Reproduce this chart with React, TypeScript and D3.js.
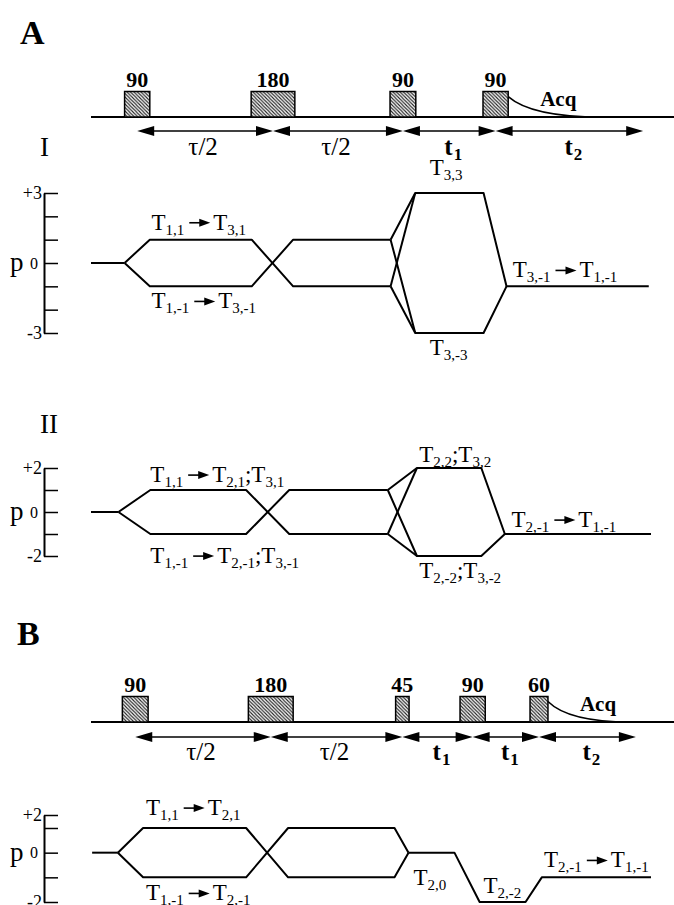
import React, { useEffect, useRef } from 'react';
import * as d3 from 'd3';

const W = 674;
const H = 905;

// shared time axis (arbitrary units, 0..100 across the sequence)
const TIME_DOMAIN = [0, 100];

// ---- A: pulse sequence ----
const pulseLabelsA = ['90', '180', '90', '90'];
const pulseStartA = [6.0, 28.6, 53.4, 70.0];
const pulseEndA = [10.5, 36.4, 58.0, 74.5];
const delayLabelsA = ['τ/2', 'τ/2', 't{1}', 't{2}'];
const acqEndA = 91.2;
const arrowEndA = 98.6;

// ---- B: pulse sequence ----
const pulseLabelsB = ['90', '180', '45', '90', '60'];
const pulseStartB = [5.6, 28.1, 54.4, 65.9, 78.4];
const pulseEndB = [10.2, 36.1, 56.8, 70.4, 81.6];
const delayLabelsB = ['τ/2', 'τ/2', 't{1}', 't{1}', 't{2}'];
const acqEndB = 96.3;
const arrowEndB = 97.3;

// ---- coherence pathways: [time, order] ----
const pathI: [number, number][][] = [
  [[0, 0], [6.0, 0]],
  [[6.0, 0], [10.5, 1], [28.7, 1], [36.1, -1], [53.5, -1]],
  [[6.0, 0], [10.5, -1], [28.7, -1], [36.1, 1], [53.5, 1]],
  [[53.5, 1], [57.9, 3], [70.1, 3], [74.2, -1], [99.6, -1]],
  [[53.5, 1], [57.9, -3], [70.1, -3], [74.2, -1]],
  [[53.5, -1], [57.9, 3]],
  [[53.5, -1], [57.9, -3]],
];
const pathII: [number, number][][] = [
  [[0, 0], [4.9, 0]],
  [[4.9, 0], [10.6, 1], [27.7, 1], [35.4, -1], [53.0, -1]],
  [[4.9, 0], [10.6, -1], [27.7, -1], [35.4, 1], [53.0, 1]],
  [[53.0, 1], [58.2, 2], [69.7, 2], [73.9, -1], [100, -1]],
  [[53.0, 1], [58.2, -2], [69.7, -2], [73.9, -1]],
  [[53.0, -1], [58.2, 2]],
  [[53.0, -1], [58.2, -2]],
];
const pathB: [number, number][][] = [
  [[0.2, 0], [4.8, 0]],
  [[4.8, 0], [9.3, 1], [27.7, 1], [35.2, -1], [54.2, -1], [56.7, 0]],
  [[4.8, 0], [9.3, -1], [27.7, -1], [35.2, 1], [54.2, 1], [56.7, 0]],
  [[56.7, 0], [64.9, 0], [69.4, -2], [77.6, -2], [80.5, -1], [100, -1]],
];

// ---- labels on the pathways ----
const labelsI = [
  { text: 'T{1,1}>T{3,1}', t: 10.8, p: 1, dy: -10 },
  { text: 'T{1,-1}>T{3,-1}', t: 10.8, p: -1, dy: 22 },
  { text: 'T{3,3}', t: 60.5, p: 3, dy: -18 },
  { text: 'T{3,-3}', t: 60.5, p: -3, dy: 22 },
  { text: 'T{3,-1}>T{1,-1}', t: 75.3, p: -1, dy: -9 },
];
const labelsII = [
  { text: 'T{1,1}>T{2,1};T{3,1}', t: 10.6, p: 1, dy: -8 },
  { text: 'T{1,-1}>T{2,-1};T{3,-1}', t: 10.6, p: -1, dy: 29 },
  { text: 'T{2,2};T{3,2}', t: 58.6, p: 2, dy: -6 },
  { text: 'T{2,-2};T{3,-2}', t: 58.6, p: -2, dy: 22 },
  { text: 'T{2,-1}>T{1,-1}', t: 75.1, p: -1, dy: -7 },
];
const labelsB = [
  { text: 'T{1,1}>T{2,1}', t: 9.8, p: 1, dy: -13 },
  { text: 'T{1,-1}>T{2,-1}', t: 9.8, p: -1, dy: 23 },
  { text: 'T{2,0}', t: 57.6, p: 0, dy: 32 },
  { text: 'T{2,-2}', t: 70.1, p: -2, dy: -9 },
  { text: 'T{2,-1}>T{1,-1}', t: 80.9, p: -1, dy: -10 },
];

const SERIF = '"Liberation Serif", "DejaVu Serif", serif';

const x = d3.scaleLinear().domain(TIME_DOMAIN).range([91, 651]);

let ctx: CanvasRenderingContext2D | null = null;
function textWidth(s: string, size: number, bold: boolean) {
  if (!ctx) ctx = document.createElement('canvas').getContext('2d');
  if (!ctx) return s.length * size * 0.5;
  ctx.font = `${bold ? 'bold ' : ''}${size}px ${SERIF}`;
  return ctx.measureText(s).width;
}

// tiny markup: {..} subscript, > arrow (drawn as a line with a filled head)
function RichText({ text, x, y, size = 23, bold = false, sub = 15, anchor = 'start' }: any) {
  const parts: string[] = text.match(/\{[^}]*\}|>|[^{>]+/g) || [];
  const items: any[] = [];
  let cx = 0;
  parts.forEach((s, i) => {
    if (s === '>') {
      items.push({ kind: 'arrow', x: cx + 5 });
      cx += 29;
    } else if (s.startsWith('{')) {
      const str = s.slice(1, -1);
      const gap = bold ? 1 : 0;
      items.push({ kind: 'sub', x: cx + gap, s: str });
      cx += gap + textWidth(str, sub, bold);
    } else {
      items.push({ kind: 'txt', x: cx, s });
      cx += textWidth(s, size, bold);
    }
  });
  const x0 = anchor === 'middle' ? x - cx / 2 : x;
  const fw = bold ? 'bold' : 'normal';
  return (
    <g transform={`translate(${x0},${y})`} fontFamily={SERIF} fontWeight={fw}>
      {items.map((it, i) => {
        if (it.kind === 'arrow') {
          const ay = -size * 0.3;
          return (
            <g key={i}>
              <line x1={it.x} x2={it.x + 12} y1={ay} y2={ay} stroke="#000" strokeWidth={1.6} />
              <path d={`M${it.x + 21},${ay}L${it.x + 10},${ay - 4}L${it.x + 10},${ay + 4}Z`} fill="#000" />
            </g>
          );
        }
        if (it.kind === 'sub') {
          return <text key={i} x={it.x} y={5} fontSize={sub}>{it.s}</text>;
        }
        return <text key={i} x={it.x} y={0} fontSize={size}>{it.s}</text>;
      })}
    </g>
  );
}

function PulseRow({ labels, starts, ends, delays, acqEnd, arrowEnd, base, arrowY, labelY }: any) {
  const top = base - 25.5;
  const mids = starts.map((s: number, i: number) => (x(s) + x(ends[i])) / 2);
  const bounds = [...mids, x(arrowEnd)];
  const L = 17, h = 5;
  const last = x(ends[ends.length - 1]);
  const fid = d3.path();
  fid.moveTo(last, top + 5);
  fid.quadraticCurveTo(last + 0.25 * (x(acqEnd) - last), base, x(acqEnd), base);
  return (
    <g>
      <line x1={x(0)} x2={W} y1={base} y2={base} stroke="#000" strokeWidth={2} />
      {starts.map((s: number, i: number) => (
        <g key={i}>
          <rect x={x(s)} y={top} width={x(ends[i]) - x(s)} height={base - top}
            fill="url(#hatch)" stroke="#000" strokeWidth={1.5} />
          <text x={mids[i]} y={labelY} textAnchor="middle" fontFamily={SERIF}
            fontWeight="bold" fontSize={22}>{labels[i]}</text>
        </g>
      ))}
      <path d={fid.toString()} fill="none" stroke="#000" strokeWidth={1.6} />
      <text x={last + 32} y={base - 11} fontFamily={SERIF} fontWeight="bold" fontSize={21}>Acq</text>
      {delays.map((lab: string, i: number) => {
        const x0 = bounds[i], x1 = bounds[i + 1];
        const isT = lab.startsWith('t');
        return (
          <g key={i}>
            <line x1={x0 + 4} x2={x1 - 4} y1={arrowY} y2={arrowY} stroke="#000" strokeWidth={1.6} />
            <path d={`M${x0},${arrowY}L${x0 + L},${arrowY - h}L${x0 + L},${arrowY + h}Z`} fill="#000" />
            <path d={`M${x1},${arrowY}L${x1 - L},${arrowY - h}L${x1 - L},${arrowY + h}Z`} fill="#000" />
            <RichText text={lab} x={(x0 + x1) / 2 + (isT ? 4 : -2)} y={labelY + 68} anchor="middle"
              size={25} sub={17} bold={isT} />
          </g>
        );
      })}
    </g>
  );
}

function PAxis({ y }: any) {
  const ref = useRef<SVGGElement>(null);
  useEffect(() => {
    const dom = y.domain();
    const hi = dom[0], lo = dom[dom.length - 1];
    const axis = d3.axisLeft(y)
      .tickValues(d3.range(lo, hi + 1))
      .tickSize(-14)
      .tickSizeOuter(0)
      .tickPadding(2)
      .tickFormat((d: any) => (d === hi ? `+${d}` : d === lo ? `${d}` : d === 0 ? '0' : ''));
    const g = d3.select(ref.current).call(axis as any);
    g.attr('font-family', null).attr('font-size', null);
    g.select('.domain').attr('stroke-width', 2);
    g.selectAll('.tick line').attr('stroke-width', 1.5);
    g.selectAll('.tick text')
      .attr('font-family', SERIF)
      .attr('font-size', (d: any) => (d === 0 ? 16 : 18))
      .attr('dx', (d: any) => (d === 0 ? -4 : 0));
  }, [y]);
  return (
    <g>
      <g ref={ref} transform="translate(44,0)" />
      <text x={10} y={y(0) + 8} fontFamily={SERIF} fontSize={27}>p</text>
    </g>
  );
}

function Pathway({ paths, labels, y }: any) {
  const line = d3.line<[number, number]>().x((d) => x(d[0])).y((d) => y(d[1]));
  return (
    <g>
      <PAxis y={y} />
      {paths.map((p: [number, number][], i: number) => (
        <path key={i} d={line(p) || ''} fill="none" stroke="#000" strokeWidth={2} strokeLinejoin="round" />
      ))}
      {labels.map((l: any, i: number) => (
        <RichText key={i} text={l.text} x={x(l.t)} y={y(l.p) + l.dy} />
      ))}
    </g>
  );
}

export default function App() {
  useEffect(() => {
    document.body.style.margin = '0';
  }, []);
  const yI = d3.scaleLinear().domain([3, -3]).range([193, 333]);
  const yII = d3.scaleLinear().domain([2, -2]).range([468, 556]);
  const yB = d3.scaleLinear().domain([2, 1, -2]).range([815, 828, 902]);
  return (
    <svg width={W} height={H} style={{ display: 'block', background: '#fff' }}>
      <defs>
        <pattern id="hatch" width={3.5} height={3.5} patternUnits="userSpaceOnUse">
          <rect width={3.5} height={3.5} fill="#fff" />
          <path d="M0,0L3.5,3.5M-1,2.5L1,4.5M2.5,-1L4.5,1" stroke="#222" strokeWidth={1.1} />
        </pattern>
      </defs>
      <text x={20} y={44} fontFamily={SERIF} fontWeight="bold" fontSize={34}>A</text>
      <PulseRow labels={pulseLabelsA} starts={pulseStartA} ends={pulseEndA} delays={delayLabelsA}
        acqEnd={acqEndA} arrowEnd={arrowEndA} base={117} arrowY={131} labelY={87} />
      <text x={40} y={156} fontFamily={SERIF} fontSize={27}>I</text>
      <Pathway paths={pathI} labels={labelsI} y={yI} />
      <text x={40} y={433} fontFamily={SERIF} fontSize={27}>II</text>
      <Pathway paths={pathII} labels={labelsII} y={yII} />
      <text x={17} y={645} fontFamily={SERIF} fontWeight="bold" fontSize={34}>B</text>
      <PulseRow labels={pulseLabelsB} starts={pulseStartB} ends={pulseEndB} delays={delayLabelsB}
        acqEnd={acqEndB} arrowEnd={arrowEndB} base={722} arrowY={737} labelY={692} />
      <Pathway paths={pathB} labels={labelsB} y={yB} />
    </svg>
  );
}
